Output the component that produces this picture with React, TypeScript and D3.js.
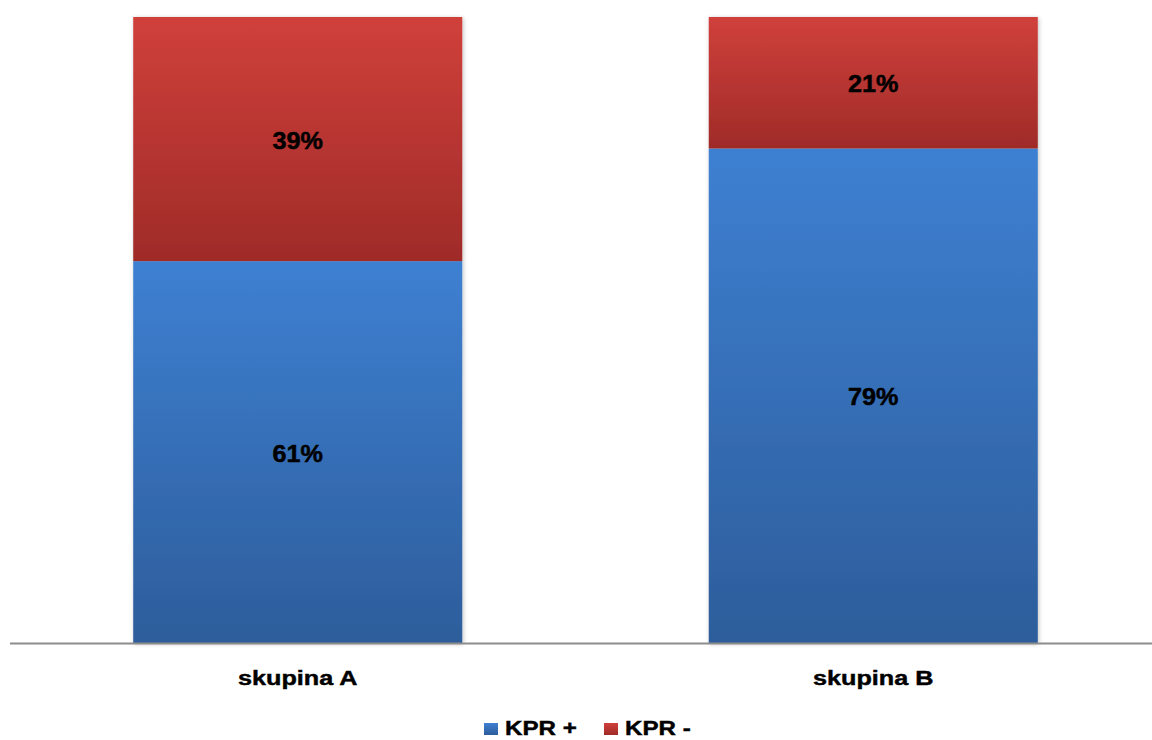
import React from "react";
import * as d3 from "d3";

// Stacked 100% bars: share of KPR+ / KPR- per group
const categories = ["skupina A", "skupina B"];
const kprPlus = [61, 79];
const kprMinus = [39, 21];
const seriesNames = ["KPR +", "KPR -"];

const W = 1152;
const H = 740;
const FONT = "'Liberation Sans', Arial, Helvetica, sans-serif";

export default function App() {
  const x = d3
    .scaleBand<string>()
    .domain(categories)
    .range([10, 1161])
    .paddingInner(0.4283)
    .paddingOuter(0.2141);
  const y = d3.scaleLinear().domain([0, 100]).range([643, 17]);

  const stackData = categories.map((c, i) => ({ cat: c, plus: kprPlus[i], minus: kprMinus[i] }));
  const stacked = d3.stack<any>().keys(["plus", "minus"])(stackData);
  const gradIds = ["gBlue", "gRed"];

  return (
    <svg
      width={W}
      height={H}
      style={{ position: "absolute", left: 0, top: 0, background: "#fff" }}
      fontFamily={FONT}
    >
      <defs>
        <linearGradient id="gBlue" x1="0" y1="0" x2="0" y2="1">
          <stop offset="0" stopColor="#3E80D2" />
          <stop offset="1" stopColor="#2D5D9B" />
        </linearGradient>
        <linearGradient id="gRed" x1="0" y1="0" x2="0" y2="1">
          <stop offset="0" stopColor="#D0403B" />
          <stop offset="1" stopColor="#9F2B28" />
        </linearGradient>
        <filter id="shadow" x="-5%" y="-5%" width="110%" height="110%">
          <feDropShadow dx="1" dy="1" stdDeviation="2" floodColor="#000" floodOpacity="0.25" />
        </filter>
      </defs>

      {/* bars */}
      <g filter="url(#shadow)">
        {stacked.map((layer, li) =>
          layer.map((d, i) => (
            <rect
              key={`${li}-${i}`}
              x={x(categories[i])}
              y={y(d[1])}
              width={x.bandwidth()}
              height={y(d[0]) - y(d[1])}
              fill={`url(#${gradIds[li]})`}
            />
          ))
        )}
      </g>

      {/* category axis line */}
      <line x1={10} x2={W} y1={643.5} y2={643.5} stroke="#8C8C8C" strokeWidth={2} />

      {/* value labels */}
      {stacked.map((layer, li) =>
        layer.map((d, i) => {
          const cx = (x(categories[i]) as number) + x.bandwidth() / 2;
          const cy = (y(d[0]) + y(d[1])) / 2;
          const v = li === 0 ? kprPlus[i] : kprMinus[i];
          return (
            <text
              key={`l-${li}-${i}`}
              transform={`translate(${cx},${cy + 9.5}) scale(1.05,1)`}
              textAnchor="middle"
              fontSize={24}
              fontWeight="bold"
              fill="#000"
              stroke="#000"
              strokeWidth={0.5}
            >
              {`${v}%`}
            </text>
          );
        })
      )}

      {/* category labels */}
      {categories.map((c) => (
        <text
          key={c}
          transform={`translate(${(x(c) as number) + x.bandwidth() / 2},685) scale(1.2,1)`}
          textAnchor="middle"
          fontSize={21}
          fontWeight="bold"
          fill="#000"
          stroke="#000"
          strokeWidth={0.45}
        >
          {c}
        </text>
      ))}

      {/* legend */}
      {seriesNames.map((s, i) => {
        const lx = i === 0 ? 484 : 604;
        return (
          <g key={s}>
            <rect x={lx} y={723} width={14} height={12} fill={`url(#${gradIds[i]})`} />
            <text
              transform={`translate(${lx + 21},735) scale(1.15,1)`}
              fontSize={21}
              fontWeight="bold"
              fill="#000"
              stroke="#000"
              strokeWidth={0.45}
            >
              {s}
            </text>
          </g>
        );
      })}
    </svg>
  );
}
